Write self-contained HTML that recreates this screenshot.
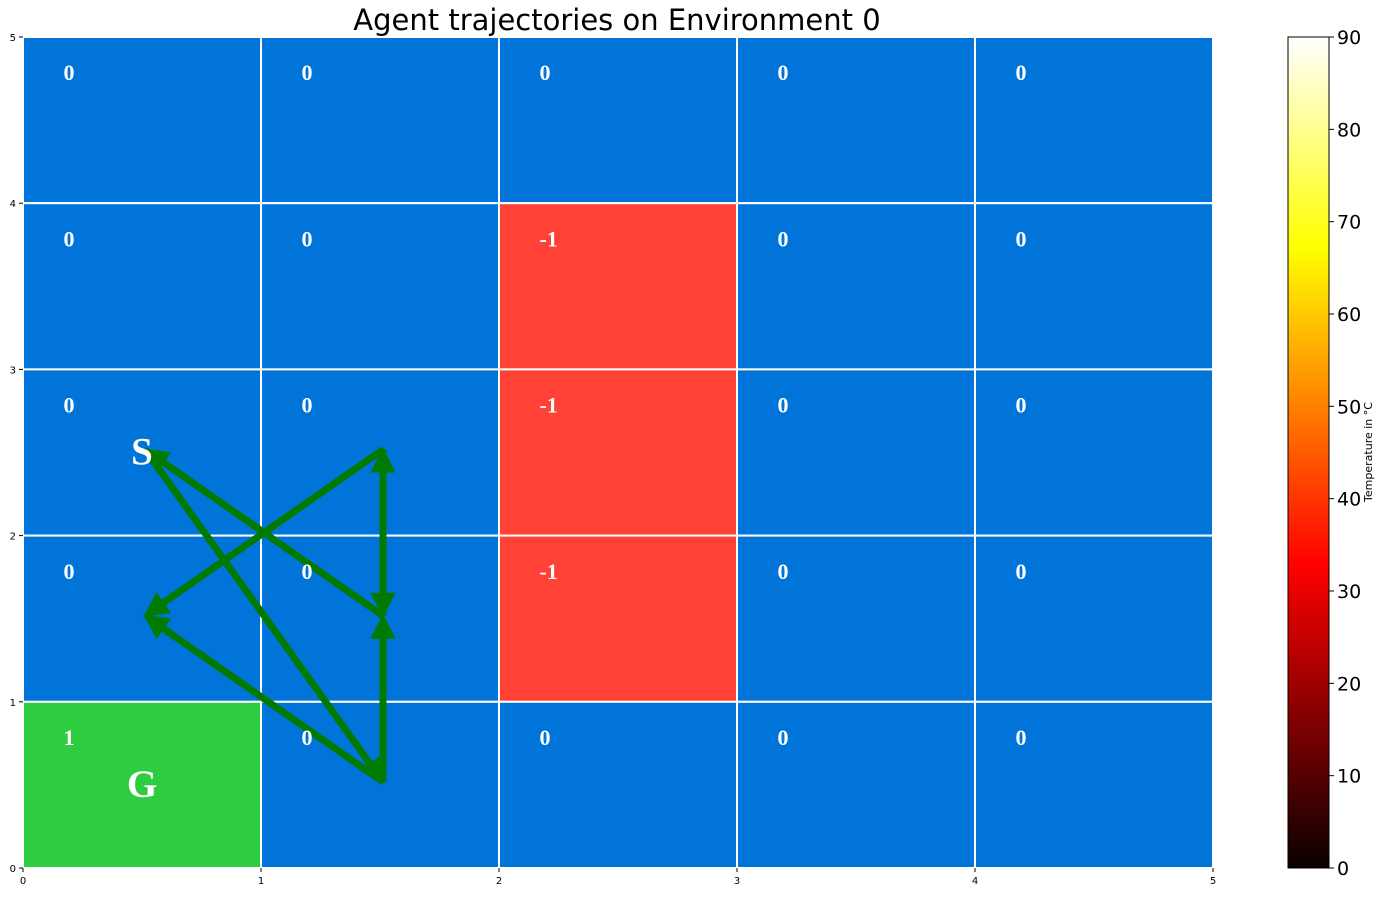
<!DOCTYPE html>
<html><head><meta charset="utf-8"><style>
body{margin:0;background:#fff;width:1386px;height:894px;overflow:hidden}
svg{font-family:"DejaVu Sans","Liberation Sans",sans-serif}
</style></head><body>
<svg id="chart" width="1386" height="894" xmlns="http://www.w3.org/2000/svg">
<defs>
<linearGradient id="hot" x1="0" y1="1" x2="0" y2="0">
<stop offset="0" stop-color="#0b0000"/><stop offset="0.365" stop-color="#ff0000"/>
<stop offset="0.746" stop-color="#ffff00"/><stop offset="1" stop-color="#ffffff"/>
</linearGradient>
</defs>
<text x="617" y="30" font-size="29" text-anchor="middle">Agent trajectories on Environment 0</text>
<g id="grid"></g>
<g id="arrows"></g>
<g id="labels"></g>
<g id="axes"></g>
<rect x="1288" y="37" width="41" height="831" fill="url(#hot)" stroke="#000" stroke-width="1"/>
<g id="cbticks"></g>
<text transform="translate(1372,452) rotate(-90)" font-size="11" text-anchor="middle">Temperature in °C</text>
</svg>
<script>
const rewards=[[0,0,0,0,0],[0,0,-1,0,0],[0,0,-1,0,0],[0,0,-1,0,0],[1,0,0,0,0]]; // rows top(y=4) to bottom(y=0)
const trajFrom=[[1.5,1.5],[0.5,2.5],[1.5,0.5],[1.5,2.5],[1.5,0.5],[1.5,1.5],[1.5,2.5]];
const trajTo=[[0.5,2.5],[1.5,0.5],[0.5,1.5],[0.5,1.5],[1.5,1.5],[1.5,2.5],[1.5,1.5]];
const xTicks=[0,1,2,3,4,5];
const yTicks=[0,1,2,3,4,5];
const cbTicks=[0,10,20,30,40,50,60,70,80,90];
const X0=23,X1=1213,Y0=868,Y1=37;
const sx=v=>X0+(X1-X0)*v/5, sy=v=>Y0-(Y0-Y1)*v/5;
const NS="http://www.w3.org/2000/svg";
function mk(t,a,p){const e=document.createElementNS(NS,t);for(const k in a)e.setAttribute(k,a[k]);p.appendChild(e);return e;}
const g=document.getElementById('grid');
const lg=document.getElementById('labels');
rewards.forEach((row,r)=>row.forEach((v,c)=>{
 const yv=4-r;
 const col=v>0?'#2ecc40':v<0?'#ff4136':'#0074d9';
 const rc=mk('rect',{x:sx(c),y:sy(yv+1),width:sx(c+1)-sx(c),height:sy(yv)-sy(yv+1),fill:col,stroke:'#fff','stroke-width':2},g);
 
 
 const t=mk('text',{x:sx(c+0.17),y:sy(yv+0.74),fill:'#fff','font-size':22,'font-weight':'bold','font-family':'"Liberation Serif",serif'},lg);
 t.textContent=v;
 
 
}));
[['S',0.5,2.5],['G',0.5,0.5]].forEach(([s,x,y])=>{
 const t=mk('text',{x:sx(x),y:sy(y)+12,fill:'#fff','font-size':39,'font-weight':'bold','text-anchor':'middle','font-family':'"Liberation Serif",serif'},lg);
 t.textContent=s;
 
 
});
const ag=document.getElementById('arrows');
trajFrom.forEach((f,i)=>{
 const to=trajTo[i];
 const x1=sx(f[0])+3,y1=sy(f[1])-3,x2=sx(to[0])+3,y2=sy(to[1])-3;
 const dx=x2-x1,dy=y2-y1,L=Math.hypot(dx,dy),ux=dx/L,uy=dy/L;
 const hl=22,hw=11;
 const bx=x2-ux*hl,by=y2-uy*hl;
 const ln=mk('line',{x1:x1,y1:y1,x2:bx,y2:by,stroke:'#007a00','stroke-width':7},ag);
 
 
 const hd=mk('polygon',{points:`${x2},${y2} ${bx-uy*hw},${by+ux*hw} ${bx+uy*hw},${by-ux*hw}`,fill:'#007a00',stroke:'#007a00','stroke-width':2},ag);
 
 
});
const ax=document.getElementById('axes');
xTicks.forEach(v=>{
 mk('line',{x1:sx(v),y1:Y0,x2:sx(v),y2:Y0+4,stroke:'#000'},ax);
 const t=mk('text',{x:sx(v),y:Y0+16,'font-size':10,'text-anchor':'middle'},ax);t.textContent=v;
 
 
});
yTicks.forEach(v=>{
 mk('line',{x1:X0-4,y1:sy(v),x2:X0,y2:sy(v),stroke:'#000'},ax);
 const t=mk('text',{x:X0-7,y:sy(v)+4,'font-size':10,'text-anchor':'end'},ax);t.textContent=v;
 
 
});
const cb=document.getElementById('cbticks');
cbTicks.forEach(v=>{
 const y=868-831*v/90;
 mk('line',{x1:1329,y1:y,x2:1334,y2:y,stroke:'#000'},cb);
 const t=mk('text',{x:1337,y:y+7,'font-size':19},cb);t.textContent=v;
 
 
});
</script>
</body></html>
